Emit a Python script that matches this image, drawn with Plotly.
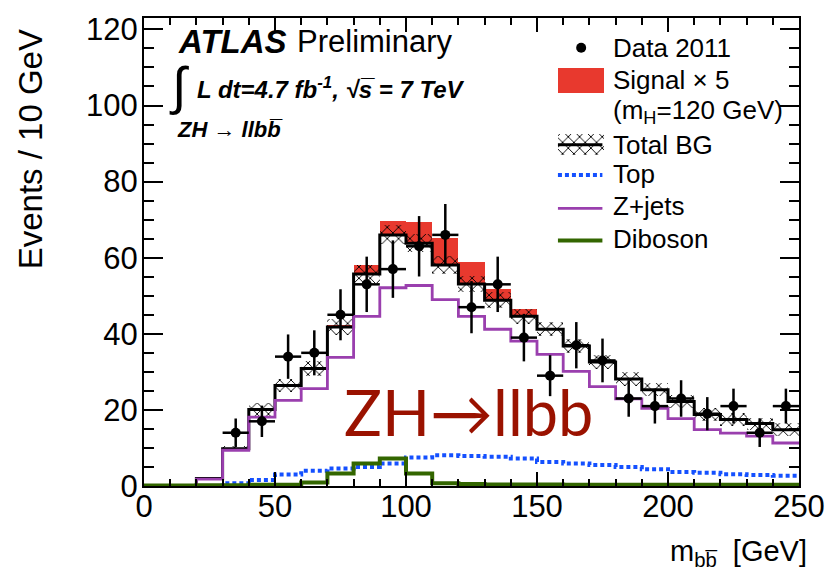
import numpy as np
import plotly.graph_objects as go

# ---- binning: 10 GeV bins over 0-250 GeV ----
bin_edges = list(range(0, 260, 10))
bin_centers = [e + 5 for e in bin_edges[:-1]]

# ---- observed data (bins 30-250 GeV) ----
data_x = bin_centers[3:]
data_2011 = [14, 17, 34, 35, 45, 53, 57, 63, 66, 47, 53, 39, 29, 37, 33,
             23, 21, 23, 19, 21, 14, 21]

# ---- expectations per bin ----
total_bg = [0, 0, 2.0, 9.8, 20.1, 26.4, 30.9, 41.8, 55.7, 66.0,
            63.8, 58.1, 53.1, 48.8, 44.6, 41.2, 36.8, 32.6, 28.1, 25.3,
            22.2, 18.8, 17.5, 16.4, 14.8]
total_bg_err = [0, 0, 0.4, 0.7, 1.6, 1.8, 2.0, 2.2, 2.4, 2.5,
                2.4, 2.3, 2.2, 2.1, 2.0, 1.9, 1.9, 1.8, 1.8, 1.7,
                1.7, 1.6, 1.6, 1.6, 1.7]
signal_x5 = [0, 0, 0, 0, 0, 0.2, 0.3, 0.5, 2.5, 3.7,
             5.5, 7.0, 5.9, 3.1, 1.8, 0.4, 0, 0, 0, 0,
             0, 0, 0, 0, 0]
top = [0, 0, 0, 0.7, 1.6, 3.0, 4.0, 4.6, 5.0, 5.9,
       7.5, 8.1, 7.9, 7.7, 7.2, 6.3, 5.9, 5.5, 5.0, 4.4,
       3.7, 3.5, 3.1, 2.9, 2.7]
zjets = [0, 0, 1.8, 9.4, 18.1, 22.5, 25.6, 33.8, 44.6, 52.1,
         52.7, 49.0, 44.6, 41.2, 38.1, 34.6, 30.1, 26.1, 22.9, 20.4,
         17.7, 14.8, 13.9, 13.1, 11.3]
diboson = [0.1, 0.1, 0.2, 0.2, 0.3, 0.3, 0.9, 3.3, 5.9, 7.2,
           3.3, 0.7, 0.5, 0.4, 0.4, 0.4, 0.3, 0.3, 0.3, 0.3,
           0.3, 0.3, 0.3, 0.3, 0.3]

# ---- styles ----
RED = "#e8392e"
BLUE = "#1450ff"
PURPLE = "#9a3fae"
GREEN = "#336600"
DARKRED = "#9a1200"
FONT = "Liberation Sans, Arial, Helvetica, sans-serif"
HATCH = dict(shape="x", size=8, solidity=0.22, fillmode="replace")

W, H = 837, 580
L, R, T, B = 144, 807, 15, 486   # plot frame in pixels


def px(x):
    return (x - L) / (R - L)


def py(y):
    return (B - y) / (B - T)


def step(vals):
    return list(vals) + [vals[-1]]


fig = go.Figure()

# signal x5 stacked on top of the total background
fig.add_trace(go.Bar(
    x=bin_centers, y=signal_x5, base=total_bg, width=10,
    marker=dict(color=RED, line=dict(width=0)), hoverinfo="skip"))

# background uncertainty band (cross hatched)
fig.add_trace(go.Bar(
    x=bin_centers,
    y=[2 * e for e in total_bg_err],
    base=[t - e for t, e in zip(total_bg, total_bg_err)],
    width=10,
    marker=dict(color="black", line=dict(width=0), pattern=HATCH),
    hoverinfo="skip"))

fig.add_trace(go.Scatter(x=bin_edges, y=step(total_bg), mode="lines",
                         line=dict(shape="hv", color="black", width=3), hoverinfo="skip"))
fig.add_trace(go.Scatter(x=bin_edges, y=step(top), mode="lines",
                         line=dict(shape="hv", color=BLUE, width=4, dash="4px,3px"), hoverinfo="skip"))
fig.add_trace(go.Scatter(x=bin_edges, y=step(zjets), mode="lines",
                         line=dict(shape="hv", color=PURPLE, width=2.8), hoverinfo="skip"))
fig.add_trace(go.Scatter(x=bin_edges, y=step(diboson), mode="lines",
                         line=dict(shape="hv", color=GREEN, width=4), hoverinfo="skip"))

fig.add_trace(go.Scatter(
    x=data_x, y=data_2011, mode="markers",
    marker=dict(color="black", size=10),
    error_y=dict(type="data", array=np.sqrt(data_2011), color="black", thickness=2.5, width=0),
    error_x=dict(type="constant", value=5, color="black", thickness=2.5, width=0),
    hoverinfo="skip"))

# ---- legend glyphs, drawn on a pixel-space overlay axis ----
LX0, LX1 = 563, 610
LXC = (LX0 + LX1) / 2
fig.add_trace(go.Scatter(x=[LXC], y=[45], mode="markers", marker=dict(color="black", size=10),
                         xaxis="x2", yaxis="y2", hoverinfo="skip"))
fig.add_trace(go.Bar(x=[LXC], y=[25], base=[65], width=[LX1 - LX0],
                     marker=dict(color=RED, line=dict(width=0)),
                     xaxis="x2", yaxis="y2", hoverinfo="skip"))
fig.add_trace(go.Bar(x=[LXC], y=[21], base=[132], width=[LX1 - LX0],
                     marker=dict(color="black", line=dict(width=0), pattern=HATCH),
                     xaxis="x2", yaxis="y2", hoverinfo="skip"))
for ly, col, wid, dash in [(142.5, "black", 3, "solid"), (173, BLUE, 4, "4px,3px"),
                           (206.5, PURPLE, 2.8, "solid"), (239, GREEN, 4, "solid")]:
    fig.add_trace(go.Scatter(x=[LX0, LX1 - 2], y=[ly, ly], mode="lines",
                             line=dict(color=col, width=wid, dash=dash),
                             xaxis="x2", yaxis="y2", hoverinfo="skip"))

annotations = []


def note(text, x, y, size, xanchor="left", yanchor="middle", color="black", family=FONT, angle=0):
    annotations.append(dict(text=text, x=px(x), y=py(y), xref="paper", yref="paper",
                            xanchor=xanchor, yanchor=yanchor, showarrow=False,
                            textangle=angle, font=dict(size=size, color=color, family=family)))


# legend labels
note("Data 2011", 617, 45, 26)
note("Signal × 5", 617, 77, 26)
note("(m<sub>H</sub>=120 GeV)", 617, 109, 26)
note("Total BG", 617, 143, 26)
note("Top", 617, 172, 26)
note("Z+jets", 617, 204, 26)
note("Diboson", 617, 237, 26)

# experiment labels
note("<b><i>ATLAS</i></b>", 176, 39, 33)
note("Preliminary", 297, 39, 31)
note("∫", 167, 84, 52)
note("<b><i>L dt=4.7 fb<sup>-1</sup>, √s̅ = 7 TeV</i></b>", 196, 85, 24)
note("<b><i>ZH → llbb̅</i></b>", 175, 127, 22)

# channel label
note("ZH→llbb", 344, 411, 63, color=DARKRED, family="Lato, sans-serif")

# axis titles
note("Events / 10 GeV", 30, 24, 33, xanchor="center", yanchor="top", angle=-90)
note("m<sub>bb̅</sub>  [GeV]", 817, 553, 29, xanchor="right")

axis_common = dict(showline=True, linecolor="black", linewidth=2, mirror="ticks",
                   ticks="inside", tickcolor="black", tickwidth=1.5,
                   showgrid=False, zeroline=False,
                   tickfont=dict(size=31, family=FONT, color="black"))

fig.update_layout(
    width=W, height=H,
    margin=dict(l=L, r=W - R, t=T, b=H - B),
    paper_bgcolor="white", plot_bgcolor="white",
    showlegend=False, barmode="overlay", bargap=0,
    xaxis=dict(range=[0, 250], tick0=0, dtick=50, ticklen=14,
               minor=dict(dtick=10, ticklen=7, ticks="inside", tickcolor="black", tickwidth=1.5),
               ticklabelstandoff=-8, **axis_common),
    yaxis=dict(range=[0, 123], tick0=0, dtick=20, ticklen=19,
               minor=dict(dtick=5, ticklen=10, ticks="inside", tickcolor="black", tickwidth=1.5),
               ticklabelstandoff=-2, **axis_common),
    xaxis2=dict(range=[L, R], overlaying="x", visible=False, anchor="y2"),
    yaxis2=dict(range=[B, T], overlaying="y", visible=False, anchor="x2"),
    annotations=annotations,
)

fig.write_html("out.html")
